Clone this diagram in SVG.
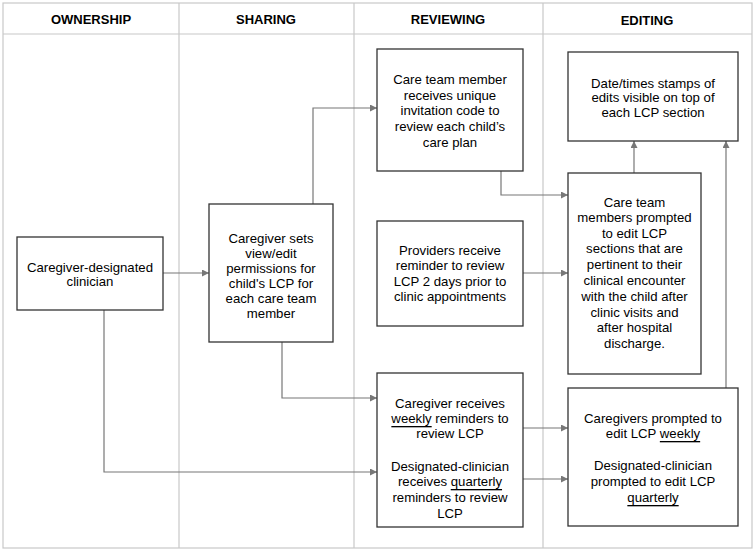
<svg xmlns="http://www.w3.org/2000/svg" width="755" height="555" viewBox="0 0 755 555">
<defs>
<marker id="ah" viewBox="0 0 10 10" refX="10" refY="5" markerWidth="7" markerHeight="7" markerUnits="userSpaceOnUse" orient="auto">
<path d="M0,0 L10,5 L0,10 z" fill="#777"/>
</marker>
<style>
.grid{fill:none;stroke:#c8c8c8;stroke-width:1.2}
.box{fill:#fff;stroke:#333;stroke-width:1.3}
.t{font-family:"Liberation Sans",Arial,sans-serif;font-size:13.2px;fill:#000;text-anchor:middle;dominant-baseline:central}
.h{font-family:"Liberation Sans",Arial,sans-serif;font-size:13px;font-weight:bold;fill:#000;text-anchor:middle;dominant-baseline:central}
.c{fill:none;stroke:#777;stroke-width:1.2;marker-end:url(#ah)}
.u{text-decoration:underline}
</style>
</defs>
<rect width="755" height="555" fill="#fff"/>
<g id="grid">
<rect class="grid" x="3" y="3" width="749" height="545"/>
<line class="grid" x1="3" y1="34" x2="752" y2="34"/>
<line class="grid" x1="179" y1="3" x2="179" y2="548"/>
<line class="grid" x1="354" y1="3" x2="354" y2="548"/>
<line class="grid" x1="543" y1="3" x2="543" y2="548"/>
<text class="h" x="91" y="19">OWNERSHIP</text>
<text class="h" x="266" y="19">SHARING</text>
<text class="h" x="448" y="19">REVIEWING</text>
<text class="h" x="647" y="20">EDITING</text>
</g>
<g id="connectors">
<path class="c" d="M163,273 H209"/>
<path class="c" d="M313,204 V108 H377"/>
<path class="c" d="M282,342 V398 H377"/>
<path class="c" d="M104,310 V472 H377"/>
<path class="c" d="M501,171 V195 H568"/>
<path class="c" d="M523,273 H568"/>
<path class="c" d="M523,428 H568"/>
<path class="c" d="M523,479 H568"/>
<path class="c" d="M634,173 V141"/>
<path class="c" d="M726,388 V141"/>
</g>
<g id="clinician">
<rect class="box" x="17" y="237" width="146" height="73"/>
<text class="t" x="90" y="267">Caregiver-designated</text>
<text class="t" x="90" y="281">clinician</text>
</g>
<g id="permissions">
<rect class="box" x="209" y="204" width="124" height="138"/>
<text class="t" x="271" y="238">Caregiver sets</text>
<text class="t" x="271" y="253">view/edit</text>
<text class="t" x="271" y="268">permissions for</text>
<text class="t" x="271" y="283">child's LCP for</text>
<text class="t" x="271" y="298">each care team</text>
<text class="t" x="271" y="313">member</text>
</g>
<g id="invitation">
<rect class="box" x="377" y="49" width="146" height="122"/>
<text class="t" x="450" y="79">Care team member</text>
<text class="t" x="450" y="95">receives unique</text>
<text class="t" x="450" y="110">invitation code to</text>
<text class="t" x="450" y="126">review each child’s</text>
<text class="t" x="450" y="142">care plan</text>
</g>
<g id="providers">
<rect class="box" x="377" y="221" width="146" height="105"/>
<text class="t" x="450" y="250">Providers receive</text>
<text class="t" x="450" y="265">reminder to review</text>
<text class="t" x="450" y="281">LCP 2 days prior to</text>
<text class="t" x="450" y="296">clinic appointments</text>
</g>
<g id="reminders">
<rect class="box" x="377" y="373" width="146" height="154"/>
<text class="t" x="450" y="403">Caregiver receives</text>
<text class="t" x="450" y="418"><tspan class="u">weekly</tspan> reminders to</text>
<text class="t" x="450" y="433">review LCP</text>
<text class="t" x="450" y="466">Designated-clinician</text>
<text class="t" x="450" y="481">receives <tspan class="u">quarterly</tspan></text>
<text class="t" x="450" y="497">reminders to review</text>
<text class="t" x="450" y="513">LCP</text>
</g>
<g id="timestamps">
<rect class="box" x="568" y="52" width="170" height="89"/>
<text class="t" x="653" y="83">Date/times stamps of</text>
<text class="t" x="653" y="97">edits visible on top of</text>
<text class="t" x="653" y="112">each LCP section</text>
</g>
<g id="prompted">
<rect class="box" x="568" y="173" width="133" height="201"/>
<text class="t" x="634.5" y="202">Care team</text>
<text class="t" x="634.5" y="217">members prompted</text>
<text class="t" x="634.5" y="233">to edit LCP</text>
<text class="t" x="634.5" y="248">sections that are</text>
<text class="t" x="634.5" y="264">pertinent to their</text>
<text class="t" x="634.5" y="280">clinical encounter</text>
<text class="t" x="634.5" y="296">with the child after</text>
<text class="t" x="634.5" y="312">clinic visits and</text>
<text class="t" x="634.5" y="327">after hospital</text>
<text class="t" x="634.5" y="343">discharge.</text>
</g>
<g id="caregiver-edit">
<rect class="box" x="568" y="388" width="170" height="138"/>
<text class="t" x="653" y="418">Caregivers prompted to</text>
<text class="t" x="653" y="433">edit LCP <tspan class="u">weekly</tspan></text>
<text class="t" x="653" y="465">Designated-clinician</text>
<text class="t" x="653" y="481">prompted to edit LCP</text>
<text class="t" x="653" y="497"><tspan class="u">quarterly</tspan></text>
</g>
</svg>
